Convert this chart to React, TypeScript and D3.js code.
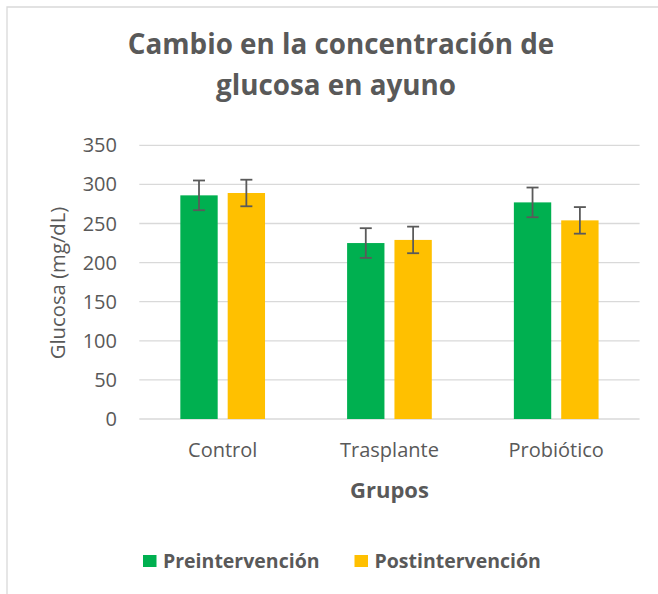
import React from "react";
import * as d3 from "d3";

const categories = ["Control", "Trasplante", "Probiótico"];
const seriesNames = ["Preintervención", "Postintervención"];
const preValues = [286, 225, 277];
const postValues = [289, 229, 254];
const preErrors = [19, 19, 19];
const postErrors = [17, 17, 17];
const yTicks = [0, 50, 100, 150, 200, 250, 300, 350];
const colors = ["#00b050", "#ffc000"];

const W = 658;
const H = 594;
const FONT = "'Open Sans', sans-serif";
const TEXT = "#595959";

export default function App() {
  const plotLeft = 139.3;
  const plotRight = 639.6;
  const y = d3.scaleLinear().domain([0, 350]).range([419, 145.3]);
  const x0 = d3.scaleBand<string>().domain(categories).range([plotLeft, plotRight]).paddingInner(0).paddingOuter(0);
  const groupW = 84.7;
  const x1 = d3
    .scaleBand<string>()
    .domain(seriesNames)
    .range([0, groupW])
    .paddingInner(10 / 47.35)
    .paddingOuter(0);
  const values = [preValues, postValues];
  const errors = [preErrors, postErrors];

  return (
    <svg
      width={W}
      height={H}
      style={{ position: "fixed", left: 0, top: 0, background: "#fff" }}
      fontFamily={FONT}
    >
      <rect x={0} y={0} width={W} height={H} fill="#fff" />
      {/* chart border */}
      <path d={`M7,${H} V7 H${W}`} fill="none" stroke="#d9d9d9" strokeWidth={1.3} />

      {/* title */}
      <text x={341} y={54} textAnchor="middle" fontSize={27.8} fontWeight="bold" fill={TEXT}>
        Cambio en la concentración de
      </text>
      <text x={336} y={95} textAnchor="middle" fontSize={27.8} fontWeight="bold" fill={TEXT}>
        glucosa en ayuno
      </text>

      {/* gridlines */}
      {yTicks.map((t) => (
        <line key={t} x1={plotLeft} x2={plotRight} y1={y(t)} y2={y(t)} stroke="#d9d9d9" strokeWidth={1.3} />
      ))}
      {/* y tick labels */}
      {yTicks.map((t) => (
        <text key={"l" + t} x={117} y={y(t)} dy="0.35em" textAnchor="end" fontSize={20} fill={TEXT}>
          {t}
        </text>
      ))}
      {/* y axis title */}
      <text
        transform={`translate(58,283) rotate(-90)`}
        textAnchor="middle"
        dy="0.35em"
        fontSize={20.3}
        fill={TEXT}
      >
        Glucosa (mg/dL)
      </text>

      {/* bars */}
      {categories.map((c, i) => {
        const gx = (x0(c) as number) + (x0.bandwidth() - groupW) / 2;
        return (
          <g key={c}>
            {seriesNames.map((s, j) => {
              const bx = gx + (x1(s) as number);
              const bw = x1.bandwidth();
              const v = values[j][i];
              const e = errors[j][i];
              const cx = bx + bw / 2;
              return (
                <g key={s}>
                  <rect x={bx} y={y(v)} width={bw} height={y(0) - y(v)} fill={colors[j]} />
                  <line x1={cx} x2={cx} y1={y(v + e)} y2={y(v - e)} stroke="#5a5a5a" strokeWidth={1.8} />
                  <line x1={cx - 6} x2={cx + 6} y1={y(v + e)} y2={y(v + e)} stroke="#5a5a5a" strokeWidth={1.8} />
                  <line x1={cx - 6} x2={cx + 6} y1={y(v - e)} y2={y(v - e)} stroke="#5a5a5a" strokeWidth={1.8} />
                </g>
              );
            })}
            <text
              x={(x0(c) as number) + x0.bandwidth() / 2}
              y={450}
              dy="0.35em"
              textAnchor="middle"
              fontSize={20}
              fill={TEXT}
            >
              {c}
            </text>
          </g>
        );
      })}

      {/* x axis title */}
      <text x={389.5} y={490} dy="0.35em" textAnchor="middle" fontSize={22} fontWeight="bold" fill={TEXT}>
        Grupos
      </text>

      {/* legend */}
      {seriesNames.map((s, j) => {
        const lx = [143, 354.5][j];
        return (
          <g key={s}>
            <rect x={lx} y={555} width={13.5} height={12} fill={colors[j]} />
            <text x={lx + 20} y={561.5} dy="0.35em" fontSize={19.5} fontWeight="bold" fill={TEXT}>
              {s}
            </text>
          </g>
        );
      })}
    </svg>
  );
}
